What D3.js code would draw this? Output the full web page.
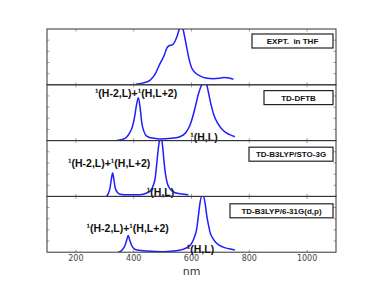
<!DOCTYPE html>
<html>
<head>
<meta charset="utf-8">
<script src="https://cdn.jsdelivr.net/npm/d3@7"></script>
<style>
  body { margin: 0; background: #fff; }
  .tick-label { font-family: "DejaVu Sans", sans-serif; font-size: 8px; fill: #444; }
  .axis-title { font-family: "DejaVu Sans", sans-serif; font-size: 11px; fill: #333; }
  .box-label { font-family: "Liberation Sans", Arial, sans-serif; font-size: 8px; font-weight: bold; fill: #111; }
  .annot { font-family: "Liberation Sans", Arial, sans-serif; font-size: 10.5px; font-weight: bold; fill: #111; }
</style>
</head>
<body>
<div id="chart"></div>
<script>
// spectra: [wavelength nm, relative intensity]
var exptSpectrum = [[407,0.01],[430,0.03],[456,0.08],[474,0.19],[491,0.38],[505,0.52],[515,0.66],[522,0.70],
  [535,0.72],[543,0.78],[550,0.87],[556,0.97],[562,1.05],[568,1.04],[574,0.92],[583,0.68],[592,0.45],
  [600,0.31],[612,0.22],[629,0.16],[650,0.12],[675,0.11],[700,0.12],[715,0.13],[730,0.12],[745,0.10]];

var dftbSpectrum = [[341,0.0],[360,0.02],[375,0.06],[385,0.13],[395,0.24],[403,0.42],[410,0.65],[416,0.77],
  [422,0.6],[428,0.32],[435,0.17],[445,0.08],[460,0.05],[491,0.03],[530,0.04],[560,0.07],[580,0.14],
  [595,0.28],[612,0.58],[622,0.8],[632,0.96],[642,1.05],[650,1.04],[658,0.88],[666,0.68],[678,0.45],
  [692,0.3],[710,0.18],[730,0.11],[750,0.07]];

var sto3gSpectrum = [[306,0.0],[312,0.05],[318,0.15],[323,0.32],[327,0.42],[331,0.32],[336,0.15],[344,0.07],
  [353,0.04],[380,0.03],[422,0.03],[445,0.06],[458,0.1],[468,0.2],[475,0.35],[480,0.6],[485,0.85],
  [490,1.02],[495,1.05],[500,0.9],[505,0.62],[510,0.4],[516,0.24],[525,0.14],[535,0.09],[555,0.05],
  [575,0.04],[589,0.03]];

var g631Spectrum = [[347,0.0],[360,0.04],[370,0.12],[376,0.22],[381,0.30],[386,0.22],[393,0.12],[402,0.06],
  [412,0.04],[450,0.02],[500,0.01],[537,0.02],[570,0.05],[595,0.12],[608,0.24],[618,0.42],[625,0.7],
  [630,0.9],[636,1.01],[641,1.01],[647,0.88],[653,0.65],[659,0.48],[664,0.36],[675,0.24],[687,0.16],
  [710,0.09],[730,0.06],[750,0.04]];

var spectra = [exptSpectrum, dftbSpectrum, sto3gSpectrum, g631Spectrum];
var methodLabels = ["EXPT.  in THF", "TD-DFTB", "TD-B3LYP/STO-3G", "TD-B3LYP/6-31G(d,p)"];
var xTicks = [200, 400, 600, 800, 1000];

// transition labels: panel index, text, nm, intensity
var annotPanel = [1, 1, 2, 2, 3, 3];
var annotText = ["\u00b9(H-2,L)+\u00b9(H,L+2)", "\u00b9(H,L)", "\u00b9(H-2,L)+\u00b9(H,L+2)", "\u00b9(H,L)",
  "\u00b9(H-2,L)+\u00b9(H,L+2)", "\u00b9(H,L)"];
var annotNm = [408, 643, 315, 493, 379, 631];
var annotY = [0.78, 0.0, 0.52, 0.01, 0.36, -0.01];

// layout
var svgWidth = 374, svgHeight = 281;
var plotLeft = 47, plotRight = 336, plotTop = 29, panelH = 55.8;
var boxWidths = [81, 69, 84, 103];

var svg = d3.select("#chart").append("svg")
  .attr("width", svgWidth)
  .attr("height", svgHeight);

var x = d3.scaleLinear().domain([100, 1100]).range([plotLeft, plotRight]);

var line = d3.line()
  .x(d => x(d[0]))
  .curve(d3.curveMonotoneX);

spectra.forEach(function(data, i) {
  var y0 = plotTop + i * panelH;
  var y = d3.scaleLinear().domain([0, 1]).range([y0 + panelH, y0]);
  var g = svg.append("g");

  svg.append("clipPath").attr("id", "clip" + i)
    .append("rect")
    .attr("x", plotLeft).attr("y", y0)
    .attr("width", plotRight - plotLeft).attr("height", panelH);

  // inner ticks, left and right
  var yt = [0.2, 0.4, 0.6, 0.8];
  g.selectAll(".yl").data(yt).enter().append("line")
    .attr("x1", plotLeft).attr("x2", plotLeft + 2.5)
    .attr("y1", d => y(d)).attr("y2", d => y(d))
    .attr("stroke", "#888").attr("stroke-width", 0.8);
  g.selectAll(".yr").data(yt).enter().append("line")
    .attr("x1", plotRight).attr("x2", plotRight - 2.5)
    .attr("y1", d => y(d)).attr("y2", d => y(d))
    .attr("stroke", "#888").attr("stroke-width", 0.8);
  // x ticks at bottom and top of each panel
  g.selectAll(".xb").data(xTicks).enter().append("line")
    .attr("x1", d => x(d)).attr("x2", d => x(d))
    .attr("y1", y0 + panelH).attr("y2", y0 + panelH - 2.5)
    .attr("stroke", "#888").attr("stroke-width", 0.8);
  g.selectAll(".xt").data(xTicks).enter().append("line")
    .attr("x1", d => x(d)).attr("x2", d => x(d))
    .attr("y1", y0).attr("y2", y0 + 2.5)
    .attr("stroke", "#888").attr("stroke-width", 0.8);

  g.append("path")
    .datum(data)
    .attr("clip-path", "url(#clip" + i + ")")
    .attr("fill", "none")
    .attr("stroke", "#1e1eff")
    .attr("stroke-width", 1.5)
    .attr("d", line.y(d => y(d[1])));

  // frame
  g.append("rect")
    .attr("x", plotLeft).attr("y", y0)
    .attr("width", plotRight - plotLeft).attr("height", panelH)
    .attr("fill", "none").attr("stroke", "#333").attr("stroke-width", 1);

  // method box
  var bw = boxWidths[i], bx = 333 - bw, by = y0 + 5 + i * 0.8;
  g.append("rect")
    .attr("x", bx).attr("y", by)
    .attr("width", bw).attr("height", 14)
    .attr("fill", "#fff").attr("stroke", "#222").attr("stroke-width", 1.2);
  g.append("text")
    .attr("class", "box-label")
    .attr("x", bx + bw / 2).attr("y", by + 10)
    .attr("text-anchor", "middle")
    .style("white-space", "pre")
    .text(methodLabels[i]);

  // transition annotations
  annotText.forEach(function(t, k) {
    if (annotPanel[k] !== i) return;
    g.append("text")
      .attr("class", "annot")
      .attr("x", x(annotNm[k]))
      .attr("y", y(annotY[k]))
      .attr("text-anchor", "middle")
      .text(t);
  });
});

var plotBottom = plotTop + 4 * panelH;

// x tick labels
svg.selectAll(".xlab").data(xTicks).enter().append("text")
  .attr("class", "tick-label")
  .attr("x", d => x(d))
  .attr("y", plotBottom + 9)
  .attr("text-anchor", "middle")
  .text(d => d);

svg.append("text")
  .attr("class", "axis-title")
  .attr("x", x(600))
  .attr("y", plotBottom + 23)
  .attr("text-anchor", "middle")
  .text("nm");
</script>
</body>
</html>
